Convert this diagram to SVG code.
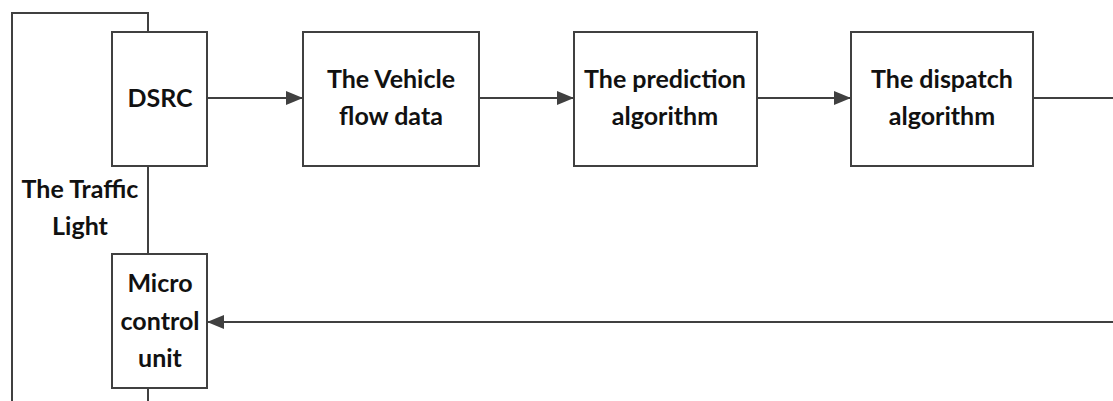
<svg xmlns="http://www.w3.org/2000/svg" width="1113" height="401" viewBox="0 0 1113 401">
  <style>
    .box { fill: #ffffff; stroke: #404040; stroke-width: 2; }
    .wire { fill: none; stroke: #404040; stroke-width: 2; }
    .label { font-family: Lato, "Open Sans", sans-serif; font-weight: bold; font-size: 25px; fill: #111111; text-anchor: middle; }
  </style>
  <defs>
    <marker id="arrow" viewBox="0 0 17 14" refX="17" refY="7" markerWidth="17" markerHeight="14" markerUnits="userSpaceOnUse" orient="auto">
      <path d="M0,0 L17,7 L0,14 z" fill="#404040"/>
    </marker>
  </defs>

  <!-- connectors -->
  <g id="connectors">
    <!-- traffic light frame -->
    <path class="wire" d="M12,401 L12,13 L148,13 L148,32"/>
    <path class="wire" d="M148,166 L148,254"/>
    <path class="wire" d="M148,388 L148,401"/>
    <!-- main data flow -->
    <path class="wire" d="M207,98 L303,98" marker-end="url(#arrow)"/>
    <path class="wire" d="M479,98 L574,98" marker-end="url(#arrow)"/>
    <path class="wire" d="M757,98 L851,98" marker-end="url(#arrow)"/>
    <path class="wire" d="M1033,98 L1113,98"/>
    <!-- feedback to the controller -->
    <path class="wire" d="M1113,322 L207,322" marker-end="url(#arrow)"/>
  </g>

  <g id="traffic-light">
    <text class="label" x="80" y="198">The Traffic</text>
    <text class="label" x="80" y="235">Light</text>
  </g>

  <g id="dsrc">
    <rect class="box" x="112" y="32" width="95" height="134"/>
    <text class="label" x="160" y="107">DSRC</text>
  </g>

  <g id="vehicle-flow">
    <rect class="box" x="303" y="32" width="176" height="134"/>
    <text class="label" x="391" y="88">The Vehicle</text>
    <text class="label" x="391" y="125">flow data</text>
  </g>

  <g id="prediction">
    <rect class="box" x="574" y="32" width="183" height="134"/>
    <text class="label" x="665" y="88">The prediction</text>
    <text class="label" x="665" y="125">algorithm</text>
  </g>

  <g id="dispatch">
    <rect class="box" x="851" y="32" width="182" height="134"/>
    <text class="label" x="942" y="88">The dispatch</text>
    <text class="label" x="942" y="125">algorithm</text>
  </g>

  <g id="micro-control">
    <rect class="box" x="112" y="254" width="95" height="134"/>
    <text class="label" x="160" y="292">Micro</text>
    <text class="label" x="160" y="330">control</text>
    <text class="label" x="160" y="367">unit</text>
  </g>
</svg>
